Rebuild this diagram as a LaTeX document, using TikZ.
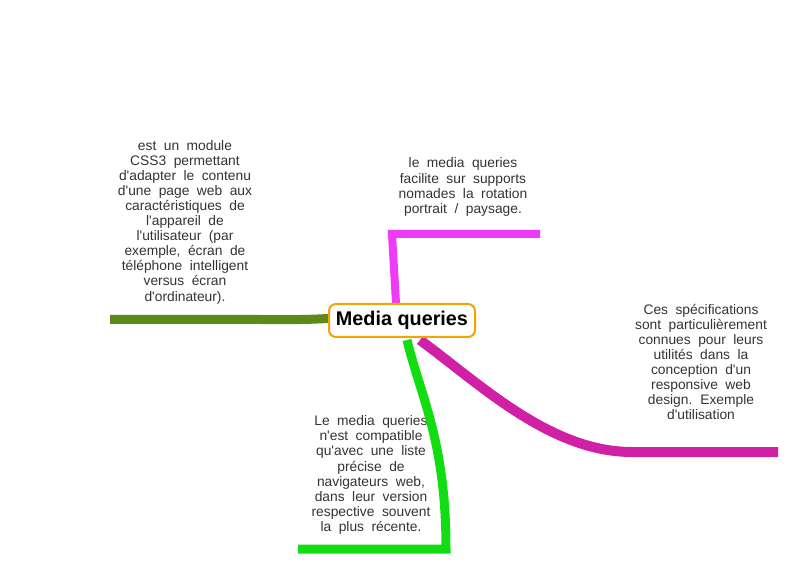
\documentclass[tikz,border=0pt]{standalone}
\usepackage{fontspec}
\setmainfont{Liberation Sans}[Ligatures=TeXOff]
\newfontfamily\titlefont{Liberation Sans}
\newcommand\descfont{\fontsize{13.8}{15.1}\selectfont\spaceskip=7.5pt plus 1pt\relax\xspaceskip=8pt plus 1pt\relax}
\pgfdeclarelayer{front}
\pgfsetlayers{main,front}
\definecolor{olivebr}{HTML}{5B8A1B}
\definecolor{magbr}{HTML}{EE3BF5}
\definecolor{purpbr}{HTML}{D020A6}
\definecolor{greenbr}{HTML}{12DC12}
\definecolor{orangebd}{HTML}{F5A300}
\definecolor{txt}{HTML}{333333}
\tikzset{
  desc/.style={align=center, text=txt, font=\descfont, inner sep=0pt},
  branch/.style={line width=#1, line join=miter},
  central/.style={draw=orangebd, line width=2pt, rounded corners=7pt, fill=white,
    minimum width=146pt, minimum height=33pt, inner sep=0pt,
    font=\titlefont\bfseries\fontsize{19.8}{22}\selectfont, text=black}
}
\begin{document}
\begin{tikzpicture}[x=1pt,y=-1pt]
\useasboundingbox (0,0) rectangle (804,580);
% texts
\node[desc] (t1) at (185,222) {est un module\\CSS3 permettant\\d'adapter le contenu\\d'une page web aux\\caractéristiques de\\l'appareil de\\l'utilisateur (par\\exemple, écran de\\téléphone intelligent\\versus écran\\d'ordinateur).};
\node[desc] (t2) at (463,187) {le media queries\\facilite sur supports\\nomades la rotation\\portrait / paysage.};
\node[desc] (t3) at (701,362) {Ces spécifications\\sont particulièrement\\connues pour leurs\\utilités dans la\\conception d'un\\responsive web\\design. Exemple\\d'utilisation};
\node[desc] (t4) at (371,475) {Le media queries\\n'est compatible\\qu'avec une liste\\précise de\\navigateurs web,\\dans leur version\\respective souvent\\la plus récente.};
% central
\begin{pgfonlayer}{front}
\node[central] (m) at (402,320.5) {Media queries};
\end{pgfonlayer}
% branch ends
\coordinate (o2) at (262,319.5);
\coordinate (o1) at (110,319.5);
\coordinate (p1) at (392,234);
\coordinate (p2) at (540,234);
\coordinate (q1) at (632,452);
\coordinate (q2) at (778,452);
\coordinate (g1) at (446,549);
\coordinate (g2) at (298,549);
% branches
\draw[olivebr, branch=9pt] ([yshift=2pt]m.west) .. controls (300,320) and (290,319.5) .. (o2) -- (o1);
\draw[magbr, branch=8pt] ([xshift=-6pt]m.north) -- (p1) -- (p2);
\draw[purpbr, branch=10pt] ([xshift=18pt,yshift=-2pt]m.south) .. controls (480,384) and (550,452) .. (q1) -- (q2);
\draw[greenbr, branch=9pt] ([xshift=5pt,yshift=-2pt]m.south) .. controls (420,395) and (446,440) .. (g1) -- (g2);
\end{tikzpicture}
\end{document}
